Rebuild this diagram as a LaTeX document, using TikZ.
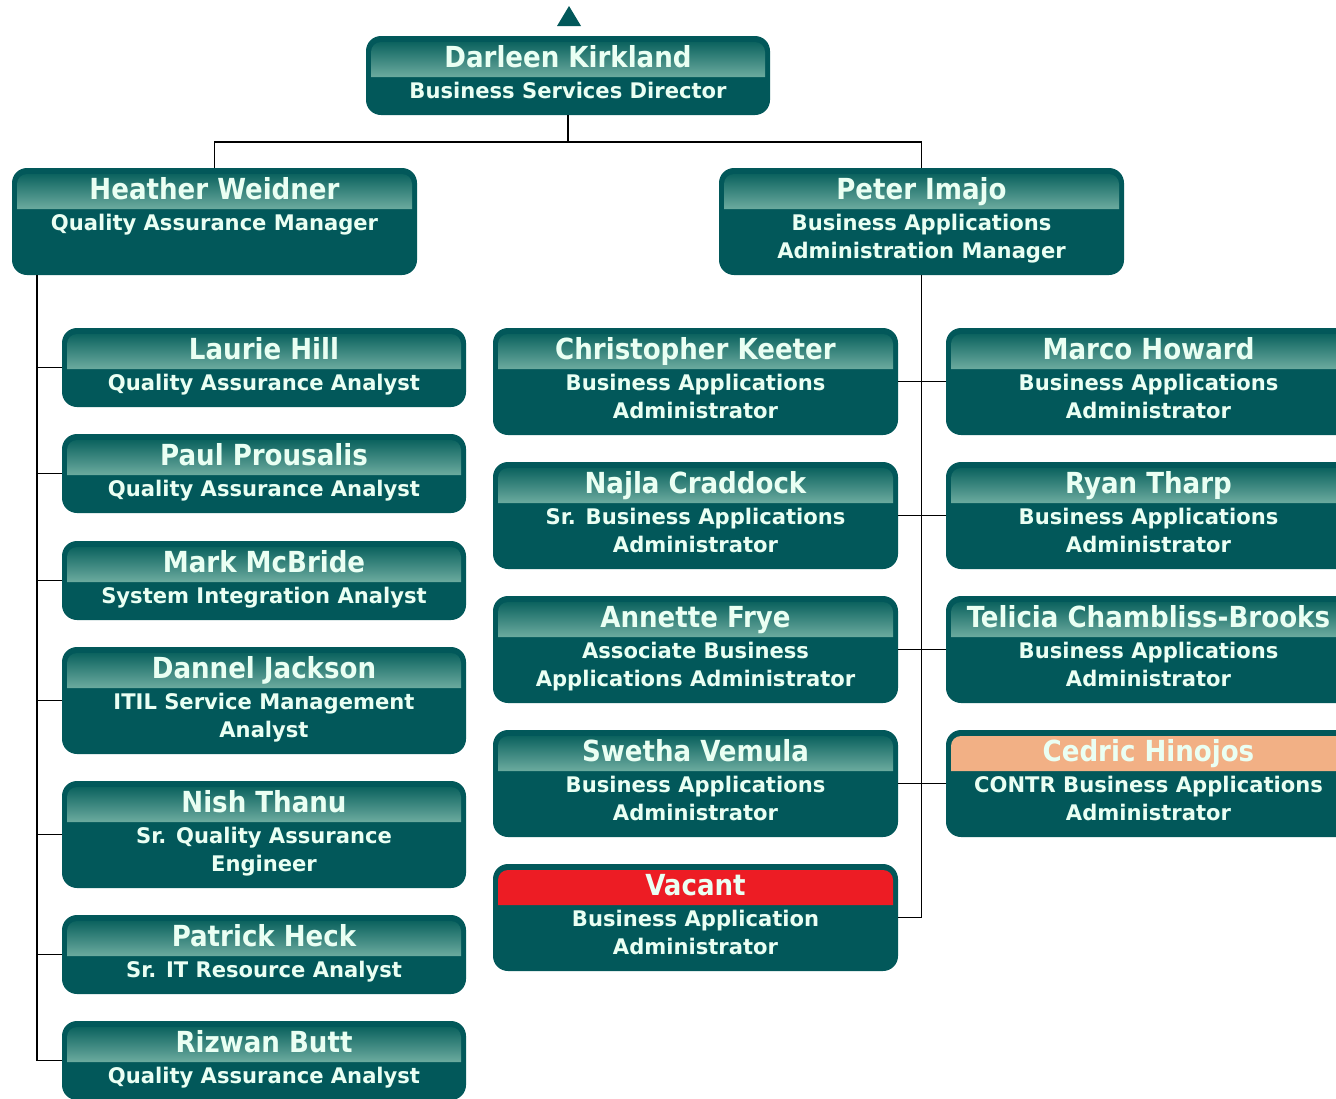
\documentclass[tikz,border=0pt]{standalone}
\usepackage{fontspec}
\newfontfamily\boxfont{DejaVu Sans Condensed}
\newfontfamily\titlefont{DejaVu Sans Condensed}[FakeStretch=1.09]
\usetikzlibrary{calc}

\definecolor{boxteal}{HTML}{02585A}
\definecolor{banddark}{HTML}{0C635F}
\definecolor{bandlight}{HTML}{6CAB9F}
\definecolor{textmint}{HTML}{EAFFF3}
\definecolor{vacred}{HTML}{ED1C24}
\definecolor{contrpeach}{HTML}{F2B085}

\tikzset{
  orgbox/.style={fill=boxteal, rounded corners=15pt, inner sep=0pt, draw=none},
  bandteal/.style={shade, top color=banddark, bottom color=bandlight},
  bandred/.style={fill=vacred},
  bandpeach/.style={fill=contrpeach},
  nametext/.style={text=textmint, inner sep=0pt, anchor=base,
    font=\boxfont\bfseries\fontsize{29}{29}\selectfont},
  titletext/.style={text=textmint, inner sep=0pt, anchor=base,
    font=\titlefont\bfseries\fontsize{21.5}{21.5}\selectfont},
  link/.style={draw=black, line width=1.8pt},
}

% #1 node name, #2 x1, #3 y1, #4 x2, #5 y2, #6 header style,
% #7 person, #8 first title line, #9 second title line (may be empty)
\newcommand{\orgbox}[9]{%
  \pgfmathsetmacro{\bw}{#4-#2}%
  \pgfmathsetmacro{\bh}{#5-#3}%
  \pgfmathsetmacro{\cx}{(#2+#4)/2}%
  \pgfmathsetmacro{\cy}{(#3+#5)/2}%
  \node[orgbox, minimum width=\bw pt, minimum height=\bh pt] (#1) at (\cx,\cy) {};
  \path[#6] (#2+5,#3+41) [rounded corners=10pt] -- (#2+5,#3+6) -- (#4-5,#3+6)
    [sharp corners] -- (#4-5,#3+41) -- cycle;
  \node[nametext] (#1-name) at (\cx,#3+31) {#7};
  \node[titletext] (#1-t1) at (\cx,#3+62) {#8};
  \if\relax\detokenize{#9}\relax\else
    \node[titletext] (#1-t2) at (\cx,#3+90) {#9};
  \fi
}

\begin{document}
\begin{tikzpicture}[x=1pt, y=-1pt]
\useasboundingbox (0,0) rectangle (1336,1098);

% collapse marker above the director
\fill[boxteal] (569,6) -- (581,26) -- (557,26) -- cycle;

% director and managers
\orgbox{dk}{366}{36}{770}{115}{bandteal}{Darleen Kirkland}{Business Services Director}{}
\orgbox{hw}{12}{168}{417}{275}{bandteal}{Heather Weidner}{Quality Assurance Manager}{}
\orgbox{pi}{719}{168}{1124}{275}{bandteal}{Peter Imajo}{Business Applications}{Administration Manager}

% quality assurance team
\orgbox{lh}{62}{328}{466}{407}{bandteal}{Laurie Hill}{Quality Assurance Analyst}{}
\orgbox{pp}{62}{434}{466}{513}{bandteal}{Paul Prousalis}{Quality Assurance Analyst}{}
\orgbox{mm}{62}{541}{466}{620}{bandteal}{Mark McBride}{System Integration Analyst}{}
\orgbox{dj}{62}{647}{466}{754}{bandteal}{Dannel Jackson}{ITIL Service Management}{Analyst}
\orgbox{nt}{62}{781}{466}{888}{bandteal}{Nish Thanu}{Sr. Quality Assurance}{Engineer}
\orgbox{ph}{62}{915}{466}{994}{bandteal}{Patrick Heck}{Sr. IT Resource Analyst}{}
\orgbox{rb}{62}{1021}{466}{1100}{bandteal}{Rizwan Butt}{Quality Assurance Analyst}{}

% business applications team, inner column
\orgbox{ck}{493}{328}{898}{435}{bandteal}{Christopher Keeter}{Business Applications}{Administrator}
\orgbox{nc}{493}{462}{898}{569}{bandteal}{Najla Craddock}{Sr. Business Applications}{Administrator}
\orgbox{af}{493}{596}{898}{703}{bandteal}{Annette Frye}{Associate Business}{Applications Administrator}
\orgbox{sv}{493}{730}{898}{837}{bandteal}{Swetha Vemula}{Business Applications}{Administrator}
\orgbox{va}{493}{864}{898}{971}{bandred}{Vacant}{Business Application}{Administrator}

% business applications team, outer column
\orgbox{mh}{946}{328}{1351}{435}{bandteal}{Marco Howard}{Business Applications}{Administrator}
\orgbox{rt}{946}{462}{1351}{569}{bandteal}{Ryan Tharp}{Business Applications}{Administrator}
\orgbox{tc}{946}{596}{1351}{703}{bandteal}{Telicia Chambliss-Brooks}{Business Applications}{Administrator}
\orgbox{ch}{946}{730}{1351}{837}{bandpeach}{Cedric Hinojos}{CONTR Business Applications}{Administrator}

% reporting lines
\coordinate (split) at ($(dk.south)+(0,27)$);
\draw[link] (dk.south) -- (split) -| (hw.north);
\draw[link] (split) -| (pi.north);

\coordinate (qabus) at ($(hw.south west)+(25,0)$);
\draw[link] (qabus) |- (rb.west);
\foreach \n in {lh,pp,mm,dj,nt,ph}
  \draw[link] (qabus |- \n.west) -- (\n.west);

\draw[link] (pi.south) |- (va.east);
\foreach \a/\b in {ck/mh,nc/rt,af/tc,sv/ch}
  \draw[link] (\a.east) -- (\b.west);
\end{tikzpicture}
\end{document}
